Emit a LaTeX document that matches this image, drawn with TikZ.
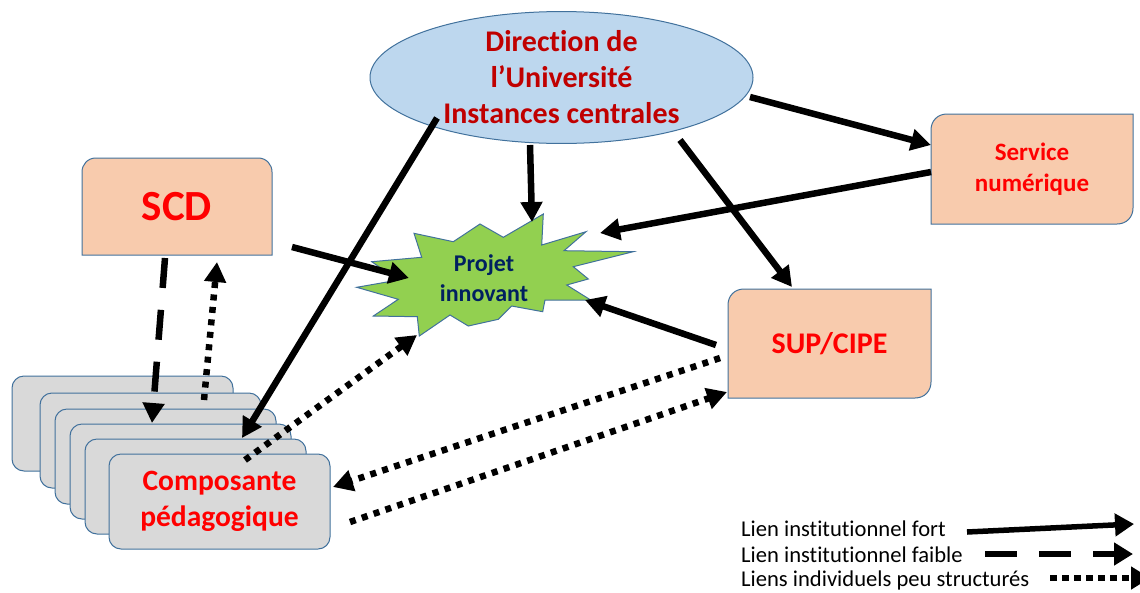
\documentclass[tikz,border=0pt]{standalone}
\usepackage{fontspec}
\setmainfont[Ligatures=NoCommon]{Carlito}
\usetikzlibrary{arrows.meta,shapes.geometric}
\definecolor{peach}{HTML}{F8CBAD}
\definecolor{edgeblue}{HTML}{41719C}
\definecolor{ellfill}{HTML}{BDD7EE}
\definecolor{stargreen}{HTML}{92D050}
\definecolor{grayfill}{HTML}{D9D9D9}
\definecolor{darkred}{HTML}{C00000}
\definecolor{navytext}{HTML}{002060}
\newcommand\nolig{\kern0pt }
\begin{document}
\begin{tikzpicture}[x=1pt,y=-1pt,
  outline/.style={draw=edgeblue,line width=1pt},
  boxshape/.style={outline,fill=peach},
  textnode/.style={inner sep=0pt,align=center},
  stackbox/.style={outline,fill=grayfill,rounded corners=12pt,minimum width=221pt,minimum height=95pt,inner sep=0pt},
  strong/.style={line width=6.5pt,-{Triangle[length=20pt,width=21pt]}},
  weak/.style={strong,dash pattern=on 30pt off 22pt},
  loose/.style={strong,dash pattern=on 6pt off 6.5pt},
  legstrong/.style={line width=5.5pt,-{Triangle[length=19pt,width=22pt]}},
  legweak/.style={legstrong,dash pattern=on 32pt off 22pt},
  legloose/.style={legstrong,dash pattern=on 7pt off 5pt},
  legtext/.style={anchor=west,inner sep=0pt,font=\fontsize{22.6}{26}\selectfont}
]
\useasboundingbox (0,0) rectangle (1140,592);

% Direction ellipse
\node[ellipse,outline,fill=ellfill,minimum width=383pt,minimum height=129pt,inner sep=0pt,
      align=center,text=darkred,font=\bfseries\fontsize{30}{36}\selectfont] (dir) at (561.5,77.5)
      {Direct\nolig ion de\\l’Université\\Instances centrales};

% SCD box (top corners rounded)
\path[boxshape] (82,255) -- (82,172) .. controls (82,164.3) and (87.7,158) .. (96,158) -- (258,158)
   .. controls (266.3,158) and (272,164.3) .. (272,172) -- (272,255) -- cycle;
\node[textnode,text=red,font=\bfseries\fontsize{43}{48}\selectfont,minimum width=190pt,minimum height=97pt] (scd) at (177,206.5) {\raisebox{-4pt}{SCD}};

% Service numerique (TL and BR rounded)
\path[boxshape] (931,224) -- (931,130) .. controls (931,121.2) and (937.2,114) .. (947,114) -- (1133,114)
   -- (1133,208) .. controls (1133,216.8) and (1126.8,224) .. (1117,224) -- cycle;
\node[textnode,text=red,font=\bfseries\fontsize{25}{31}\selectfont,minimum width=202pt,minimum height=110pt] (sn) at (1032,169) {Service\\numérique};

% SUP/CIPE (TL and BR rounded)
\path[boxshape] (728,398) -- (728,305) .. controls (728,296.2) and (734.2,289) .. (744,289) -- (931,289)
   -- (931,382) .. controls (931,390.8) and (924.8,398) .. (915,398) -- cycle;
\node[textnode,text=red,font=\bfseries\fontsize{30}{36}\selectfont,minimum width=203pt,minimum height=109pt] (sup) at (829.5,343.5) {SUP/CIPE};

% Stack of composantes
\node[stackbox] (comp1) at (122.5,423.5) {};
\node[stackbox] (comp2) at (150.5,440.5) {};
\node[stackbox] (comp3) at (165.5,456.5) {};
\node[stackbox] (comp4) at (180.5,471.5) {};
\node[stackbox] (comp5) at (195.5,486.5) {};
\node[stackbox,align=center,text=red,font=\bfseries\fontsize{29.5}{36}\selectfont] (comp) at (219.5,501.5) {Composante\\pédagogique};

% Star
\path[outline,fill=stargreen] (543.3,214) -- (541.7,245) -- (586,231.7) -- (564,250.7) -- (633.3,251.7)
  -- (573.3,266.7) -- (588.3,279) -- (566.7,285) -- (590.7,300) -- (545,300) -- (542.7,311.7)
  -- (511.7,306) -- (498.3,319.3) -- (468.3,326) -- (450,315) -- (419.3,336) -- (417.3,316.7)
  -- (373.3,316) -- (398.3,299.3) -- (356.7,287.3) -- (398.3,280) -- (371.7,261.7) -- (421.7,257.3)
  -- (414,233.3) -- (453.3,241.7) -- (480,224) -- (503.3,237.3) -- cycle;
\node[textnode,text=navytext,font=\bfseries\fontsize{24}{30}\selectfont] (proj) at (484,278) {Projet\\innovant};

% Connectors
\draw[strong] ([shift={(188.5,19.5)}]dir.center) -- ([shift={(-101,-24)}]sn.center);
\draw[strong] ([shift={(-101,3)}]sn.center) -- ([shift={(116,-45)}]proj.center);
\draw[strong] ([shift={(118.5,62.5)}]dir.center) -- ([shift={(-37.5,-56.5)}]sup.center);
\draw[strong] ([shift={(-31.5,67.5)}]dir.center) -- ([shift={(48,-56)}]proj.center);
\draw[strong] ([shift={(-124.5,40.5)}]dir.center) -- ([shift={(22.5,-63.5)}]comp.center);
\draw[strong] ([shift={(115,40.5)}]scd.center) -- ([shift={(-75,0)}]proj.center);
\draw[strong] ([shift={(-113.5,1.5)}]sup.center) -- ([shift={(101,22)}]proj.center);
\draw[weak] ([shift={(-12,51.5)}]scd.center) -- ([shift={(-67.5,-78.5)}]comp.center);
\draw[loose] ([shift={(-15.5,-101.5)}]comp.center) -- ([shift={(40,55.5)}]scd.center);
\draw[loose] ([shift={(25.5,-41.5)}]comp.center) -- ([shift={(-67,57)}]proj.center);
\draw[loose] ([shift={(-109.5,14.5)}]sup.center) -- ([shift={(113.5,-14.5)}]comp.center);
\draw[loose] ([shift={(130.5,20.5)}]comp.center) -- ([shift={(-102.5,48.5)}]sup.center);

% Legend
\node[legtext] (leg1) at (741,529) {Lien inst\nolig itut\nolig ionnel fort};
\node[legtext] (leg2) at (741,555) {Lien inst\nolig itut\nolig ionnel faible};
\node[legtext] (leg3) at (741,580) {Liens individuels peu structurés};
\coordinate (l1a) at (967,532);
\coordinate (l1b) at (1134,524);
\coordinate (l2a) at (985,554);
\coordinate (l2b) at (1133,554);
\coordinate (l3a) at (1050,578);
\coordinate (l3b) at (1150,578);
\draw[legstrong] (l1a) -- (l1b);
\draw[legweak] (l2a) -- (l2b);
\draw[legloose] (l3a) -- (l3b);
\end{tikzpicture}
\end{document}
